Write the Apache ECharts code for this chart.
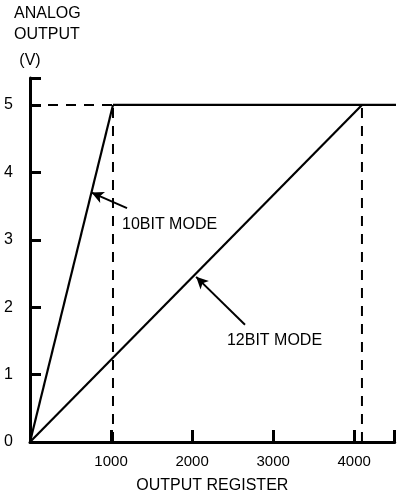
<!DOCTYPE html>
<html>
<head>
<meta charset="utf-8">
<script src="https://cdn.jsdelivr.net/npm/echarts@6/dist/echarts.min.js"></script>
<style>
  html, body { margin: 0; padding: 0; background: #fff; }
  #chart { width: 409px; height: 501px; }
</style>
</head>
<body>
<div id="chart"></div>
<script>
// DAC transfer curves: analog output voltage vs. output register value
const xTickValues = [1000, 2000, 3000, 4000];
const yTickValues = [0, 1, 2, 3, 4, 5];
const fullScale = 5;                       // volts
const tenBitFull = 1024;                   // register count at full scale, 10-bit
const twelveBitFull = 4096;                // register count at full scale, 12-bit
const tenBitLine = [[0, 0], [tenBitFull, fullScale]];
const twelveBitLine = [[0, 0], [twelveBitFull, fullScale]];
const saturation = [[tenBitFull, fullScale], [4640, fullScale]];
const refDashH = [[0, fullScale], [tenBitFull, fullScale]];
const refDashV10 = [[tenBitFull, 0], [tenBitFull, fullScale]];
const refDashV12 = [[twelveBitFull, 0], [twelveBitFull, fullScale]];
const modeNames = ['10BIT MODE', '12BIT MODE'];
const modeLabelAt = [[1135, 3.22], [2430, 1.51]];
const modeArrowFrom = [[1197, 3.47], [2653, 1.74]];
const modeArrowTo = [[760, 3.7], [2050, 2.45]];

const FONT = '"Liberation Sans", Arial, sans-serif';
const INK = '#000';

const chart = echarts.init(document.getElementById('chart'), null, { renderer: 'canvas' });

const solid = (data) => ({
  type: 'line', data, symbol: 'none', silent: true, clip: false,
  lineStyle: { color: INK, width: 2.2 }, animation: false
});
const dashed = (data) => ({
  type: 'line', data, symbol: 'none', silent: true, clip: false,
  lineStyle: { color: INK, width: 2, type: [10, 8] }, animation: false
});

chart.setOption({
  animation: false,
  backgroundColor: '#fff',
  title: {
    text: 'ANALOG\nOUTPUT',
    left: 14, top: 3, padding: 0,
    textStyle: { fontFamily: FONT, fontSize: 16, fontWeight: 'normal', color: INK, lineHeight: 21 }
  },
  grid: { left: 30, right: 14.3, top: 78, bottom: 59, containLabel: false },
  xAxis: {
    type: 'value', min: 0, max: 4500, interval: 1000,
    name: 'OUTPUT REGISTER', nameLocation: 'middle', nameGap: 36,
    nameTextStyle: { fontFamily: FONT, fontSize: 16, color: INK },
    axisLine: { show: true, lineStyle: { color: INK, width: 3 } },
    axisTick: { show: true, inside: true, length: 12, lineStyle: { color: INK, width: 3 } },
    axisLabel: {
      customValues: xTickValues, formatter: v => String(v),
      fontFamily: FONT, fontSize: 15, color: INK, margin: 12
    },
    splitLine: { show: false }
  },
  yAxis: {
    type: 'value', min: 0, max: 5.4, interval: 1,
    name: '(V)', nameLocation: 'end', nameGap: 9,
    nameTextStyle: { fontFamily: FONT, fontSize: 16, color: INK, align: 'center' },
    axisLine: { show: true, lineStyle: { color: INK, width: 3 } },
    axisTick: { show: true, inside: true, length: 11, lineStyle: { color: INK, width: 3 } },
    axisLabel: { customValues: yTickValues, fontFamily: FONT, fontSize: 16, color: INK, margin: 17 },
    splitLine: { show: false }
  },
  series: [
    solid(tenBitLine),
    solid(twelveBitLine),
    solid(saturation),
    dashed(refDashH),
    dashed(refDashV10),
    dashed(refDashV12),
    {
      type: 'custom', silent: true, animation: false, clip: false,
      data: modeLabelAt,
      renderItem: (params, api) => {
        const p = api.coord([api.value(0), api.value(1)]);
        return {
          type: 'text',
          style: {
            x: p[0], y: p[1], text: modeNames[params.dataIndex],
            fill: INK, font: '16px ' + FONT, textAlign: 'left', textVerticalAlign: 'middle'
          }
        };
      },
      markLine: {
        silent: true, animation: false,
        symbol: ['none', 'arrow'], symbolSize: [9, 12],
        label: { show: false },
        lineStyle: { color: INK, width: 2, type: 'solid' },
        data: modeNames.map((n, i) => [{ coord: modeArrowFrom[i] }, { coord: modeArrowTo[i] }])
      }
    }
  ]
});
</script>
</body>
</html>
